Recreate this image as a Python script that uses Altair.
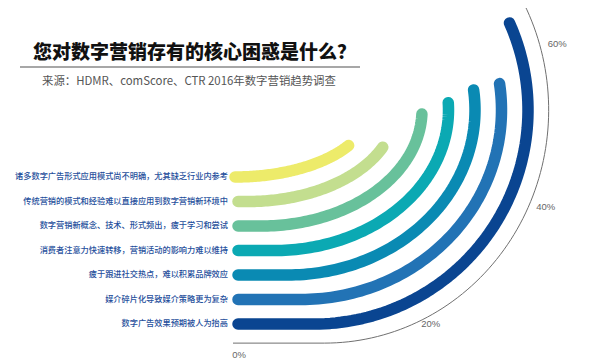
import altair as alt
import pandas as pd

# ---------------- data ----------------
categories = [
    "诸多数字广告形式应用模式尚不明确，尤其缺乏行业内参考",
    "传统营销的模式和经验难以直接应用到数字营销新环境中",
    "数字营销新概念、技术、形式频出，疲于学习和尝试",
    "消费者注意力快速转移，营销活动的影响力难以维持",
    "疲于跟进社交热点，难以积累品牌效应",
    "媒介碎片化导致媒介策略更为复杂",
    "数字广告效果预期被人为抬高",
]
values = [36, 40, 51, 53.5, 55.5, 56, 64]
colors = ["#EDEB6A", "#C3DE8F", "#68C19B", "#0BA9B3", "#0A8AB3", "#2273B5", "#0A4591"]
tick_values = [0, 20, 40, 60]
tick_labels = ["0%", "20%", "40%", "60%"]
title_text = "您对数字营销存有的核心困惑是什么？"
subtitle_text = "来源：HDMR、comScore、CTR 2016年数字营销趋势调查"

# ---------------- layout / geometry ----------------
W, H = 584, 355
CY = 102            # vertical centre of the rings
X0C = 227           # base horizontal centre of the rings
BAR_START = 230     # left end of the bars
AXIS_START = 225    # left end of the axis ring
B0, DB = 67, 24.5   # vertical radius: inner ring, step
A0, DA = 134, 13.3  # horizontal radius: inner ring, step
LL = 13.2           # straight lead-in length per ring
AXIS_RING = 6.78
AXIS_MAX = 67
DEG_PER_PCT, ANGLE_OFFSET = 2.0, 14
N = 80
FONT = "Noto Sans CJK SC"

xs = alt.Scale(domain=[0, W], nice=False, zero=False)
ys = alt.Scale(domain=[0, H], reverse=True, nice=False, zero=False)


def ring_path(chart, start_x):
    return (
        chart.transform_flatten(["k"])
        .transform_calculate(b=f"{B0} + {DB}*datum.ring")
        .transform_calculate(L=f"{LL}*datum.ring")
        .transform_calculate(a=f"{A0} + {DA}*datum.ring")
        .transform_calculate(tend=f"({DEG_PER_PCT}*datum.value - {ANGLE_OFFSET})*PI/180")
        .transform_calculate(t=f"datum.k == 0 ? 0 : (datum.k - 1)/{N - 1}*datum.tend")
        .transform_calculate(px=f"datum.k == 0 ? {start_x} : {X0C} + datum.L + datum.a*sin(datum.t)")
        .transform_calculate(py=f"{CY} + datum.b*cos(datum.t)")
    )


bars_df = pd.DataFrame({
    "cat": categories,
    "value": values,
    "ring": list(range(len(categories))),
    "k": [list(range(N + 1)) for _ in categories],
})

axis_df = pd.DataFrame({"value": [AXIS_MAX], "ring": [AXIS_RING], "k": [list(range(N + 1))]})

bars = ring_path(alt.Chart(bars_df), BAR_START).mark_line(
    strokeWidth=11.5, strokeCap="round", strokeJoin="round", clip=True
).encode(
    x=alt.X("px:Q", scale=xs, axis=None),
    y=alt.Y("py:Q", scale=ys, axis=None),
    color=alt.Color("cat:N", scale=alt.Scale(domain=categories, range=colors), legend=None),
    order="k:Q",
)

axis_line = ring_path(alt.Chart(axis_df), AXIS_START).mark_line(
    strokeWidth=1, color="#707070", clip=True
).encode(
    x=alt.X("px:Q", scale=xs, axis=None),
    y=alt.Y("py:Q", scale=ys, axis=None),
    order="k:Q",
)

labels = alt.Chart(bars_df.drop(columns=["k"])).transform_calculate(
    ly=f"{CY} + {B0} + {DB}*datum.ring"
).transform_calculate(
    lx=f"{BAR_START} - 10"
).mark_text(
    align="right", baseline="middle", fontSize=8.2, font=FONT, fontWeight=500, color="#1f4f9c"
).encode(
    x=alt.X("lx:Q", scale=xs, axis=None),
    y=alt.Y("ly:Q", scale=ys, axis=None),
    text="cat:N",
)

ticks_df = pd.DataFrame({"v": tick_values, "label": tick_labels})
OFFX, OFFY = 18, 5
ba = B0 + DB * AXIS_RING
aa = A0 + DA * AXIS_RING
La = LL * AXIS_RING
ticks = alt.Chart(ticks_df).transform_calculate(
    t=f"({DEG_PER_PCT}*datum.v - {ANGLE_OFFSET})*PI/180"
).transform_calculate(
    tx=f"datum.v == 0 ? {AXIS_START} + 6 : {X0C} + {La} + ({aa} + {OFFX})*sin(datum.t)"
).transform_calculate(
    ty=f"datum.v == 0 ? {CY} + {ba} + 12 : {CY} + ({ba} + {OFFY})*cos(datum.t)"
).mark_text(
    align="center", baseline="middle", fontSize=9.5, font="Liberation Sans", color="#666666"
).encode(
    x=alt.X("tx:Q", scale=xs, axis=None),
    y=alt.Y("ty:Q", scale=ys, axis=None),
    text="label:N",
)

title = alt.Chart(pd.DataFrame({"t": [title_text]})).mark_text(
    align="left", baseline="middle", fontSize=19, fontWeight=900, font=FONT, color="#111111"
).encode(text="t:N", x=alt.value(25), y=alt.value(45))

underline = alt.Chart(pd.DataFrame({"d": [0]})).mark_rule(
    color="#8a8a8a", strokeWidth=1.5
).encode(x=alt.value(12), x2=alt.value(352), y=alt.value(59))

subtitle = alt.Chart(pd.DataFrame({"t": [subtitle_text]})).mark_text(
    align="left", baseline="middle", fontSize=11.4, font=FONT, color="#555555"
).encode(text="t:N", x=alt.value(34), y=alt.value(74))

chart = alt.layer(axis_line, bars, labels, ticks, title, underline, subtitle).properties(
    width=W, height=H, padding=0, autosize=alt.AutoSizeParams(type="none")
).configure_view(stroke=None)

chart.save("out.html", embed_options={"renderer": "svg", "actions": False})
